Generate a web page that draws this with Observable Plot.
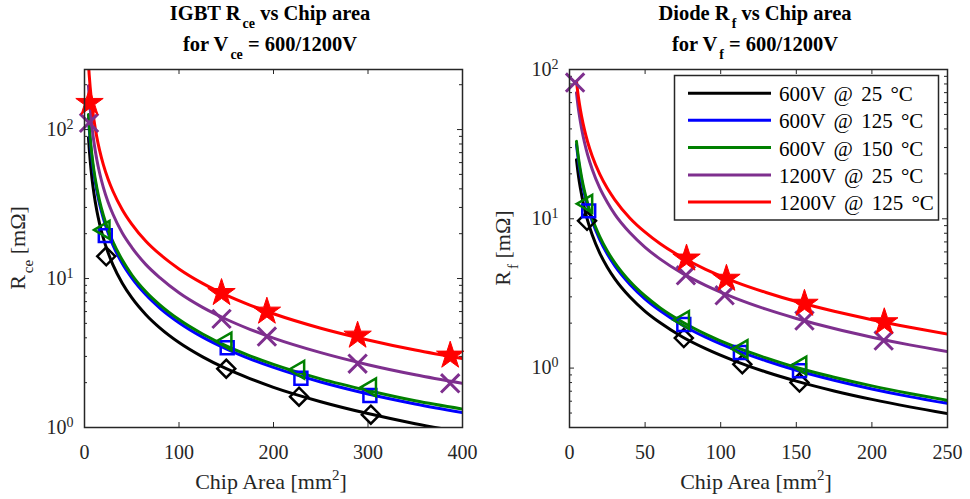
<!DOCTYPE html>
<html>
<head>
<meta charset="utf-8">
<script src="https://cdn.jsdelivr.net/npm/d3@7"></script>
<script src="https://cdn.jsdelivr.net/npm/@observablehq/plot@0.6"></script>
<style>
  html, body { margin: 0; padding: 0; background: #fff; }
  #wrap { position: relative; width: 970px; height: 499px; overflow: hidden; background: #fff; }
  #left, #right { position: absolute; top: 0; width: 485px; height: 499px; }
  #left { left: 0; } #right { left: 485px; }
</style>
</head>
<body>
<div id="wrap"><div id="left"></div><div id="right"></div></div>
<script>
// ---------- DATA ----------
const seriesNames = ["600V @ 25 °C", "600V @ 125 °C", "600V @ 150 °C", "1200V @ 25 °C", "1200V @ 125 °C"];
const seriesColors = ["#000000", "#0000ff", "#008000", "#7e2f8e", "#ff0000"];
const seriesSymbols = ["diamond2", "square", "triangle", "times", "star"];

// IGBT panel: measured points
const igbtArea600_25 = [23, 150, 227, 303];
const igbtR600_25 = [14.1, 2.48, 1.61, 1.22];
const igbtArea600_125 = [22, 151, 229, 302];
const igbtR600_125 = [19.4, 3.43, 2.14, 1.64];
const igbtArea600_150 = [21, 150, 227, 303];
const igbtR600_150 = [21.2, 3.78, 2.44, 1.86];
const igbtArea1200_25 = [4.8, 145, 193, 289, 387];
const igbtR1200_25 = [111, 5.36, 4.08, 2.68, 1.98];
const igbtArea1200_125 = [5.3, 145, 193, 289, 387];
const igbtR1200_125 = [151, 8.0, 6.0, 4.14, 3.04];

// IGBT panel: fitted curves
const igbtFitArea = [4.2, 5, 6, 8, 10, 13, 16, 20, 25, 30, 40, 50, 65, 80, 100, 125, 150, 175, 200, 250, 300, 350, 400];
const igbtFit600_25 = [88.6, 74.4, 62, 46.5, 37.2, 28.6, 23.3, 18.6, 14.9, 12.4, 9.3, 7.44, 5.72, 4.65, 3.72, 2.98, 2.48, 2.13, 1.86, 1.49, 1.24, 1.06, 0.93];
const igbtFit600_125 = [120, 101, 84.2, 63.1, 50.5, 38.8, 31.6, 25.3, 20.2, 16.8, 12.6, 10.1, 7.77, 6.31, 5.05, 4.04, 3.37, 2.89, 2.53, 2.02, 1.68, 1.44, 1.26];
const igbtFit600_150 = [126, 106, 88.3, 66.3, 53, 40.8, 33.1, 26.5, 21.2, 17.7, 13.3, 10.6, 8.15, 6.63, 5.3, 4.24, 3.53, 3.03, 2.65, 2.12, 1.77, 1.51, 1.33];
const igbtFit1200_25 = [197, 165, 138, 103, 82.1, 63, 51.1, 40.8, 32.5, 27.1, 20.2, 16.2, 12.4, 10.1, 8.02, 6.4, 5.33, 4.56, 3.98, 3.18, 2.64, 2.26, 1.98];
const igbtFit1200_125 = [276, 232, 193, 145, 116, 89.2, 72.5, 58, 46.4, 38.7, 29, 23.2, 17.8, 14.5, 11.6, 9.28, 7.73, 6.63, 5.8, 4.64, 3.87, 3.31, 2.9];

// Diode panel: measured points
const diodeArea600_25 = [11.6, 75.6, 114.3, 152.1];
const diodeR600_25 = [9.7, 1.59, 1.06, 0.80];
const diodeArea600_125 = [12.7, 75.6, 113, 152.1];
const diodeR600_125 = [11.3, 1.96, 1.27, 0.96];
const diodeArea600_150 = [11.6, 75.6, 114.3, 153.2];
const diodeR600_150 = [12.6, 2.1, 1.34, 1.04];
const diodeArea1200_25 = [3.7, 77, 102.6, 155.4, 207.8];
const diodeR1200_25 = [81.7, 4.18, 3.07, 2.08, 1.53];
const diodeArea1200_125 = [77.4, 103.8, 155.4, 208.2];
const diodeR1200_125 = [5.42, 3.97, 2.70, 2.03];

// Diode panel: fitted curves
const diodeFitArea = [4.6, 5.5, 6.5, 8, 10, 12, 15, 20, 25, 30, 40, 50, 60, 75, 90, 110, 130, 150, 175, 200, 225, 250];
const diodeFit600_25 = [24.9, 20.9, 17.7, 14.5, 11.6, 9.72, 7.81, 5.89, 4.74, 3.96, 2.99, 2.4, 2.01, 1.61, 1.35, 1.11, 0.941, 0.818, 0.703, 0.617, 0.55, 0.496];
const diodeFit600_125 = [31.5, 26.4, 22.3, 18.1, 14.5, 12.1, 9.67, 7.25, 5.8, 4.83, 3.63, 2.9, 2.42, 1.93, 1.61, 1.32, 1.12, 0.967, 0.829, 0.725, 0.644, 0.58];
const diodeFit600_150 = [33, 27.6, 23.4, 19, 15.2, 12.7, 10.1, 7.6, 6.08, 5.07, 3.8, 3.04, 2.53, 2.03, 1.69, 1.38, 1.17, 1.01, 0.869, 0.76, 0.676, 0.608];
const diodeFit1200_25 = [70, 58.5, 49.5, 40.3, 32.2, 26.8, 21.5, 16.1, 12.9, 10.7, 8.05, 6.44, 5.37, 4.29, 3.58, 2.93, 2.48, 2.15, 1.84, 1.61, 1.43, 1.29];
const diodeFit1200_125 = [83.3, 70, 59.5, 48.6, 39.1, 32.7, 26.3, 19.9, 16, 13.4, 10.1, 8.14, 6.81, 5.48, 4.59, 3.77, 3.21, 2.79, 2.4, 2.11, 1.88, 1.69];

// Axis ticks
const igbtXTicks = [0, 100, 200, 300, 400];
const igbtYMajor = [1, 10, 100];
const igbtYMinor = [2, 3, 4, 5, 6, 7, 8, 9, 20, 30, 40, 50, 60, 70, 80, 90, 200];
const diodeXTicks = [0, 50, 100, 150, 200, 250];
const diodeYMajor = [1, 10, 100];
const diodeYMinor = [0.4, 0.5, 0.6, 0.7, 0.8, 0.9, 2, 3, 4, 5, 6, 7, 8, 9, 20, 30, 40, 50, 60, 70, 80, 90];

// ---------- BUILD ----------
const W = 485, H = 499, ML = 84, MR = 23, MT = 69, MB = 72;
const PW = W - ML - MR, PH = H - MT - MB;
const AX = "#262626";
const FONT = "Liberation Serif, Times New Roman, serif";

function tidyPoints(areas, values) {
  const out = [];
  areas.forEach((a, s) => a.forEach((x, i) => out.push({x, y: values[s][i], s})));
  return out;
}
function tidyFit(area, fits) {
  const out = [];
  fits.forEach((f, s) => f.forEach((y, i) => out.push({x: area[i], y, s})));
  return out;
}

function makePanel({xDomain, yDomain, xTicks, yMajor, yMinor, fit, pts}) {
  const marks = [
    Plot.ruleX(xTicks, {stroke: AX, strokeWidth: 1, insetTop: PH - 5}),
    Plot.ruleX(xTicks, {stroke: AX, strokeWidth: 1, insetBottom: PH - 5}),
    Plot.ruleY(yMajor, {stroke: AX, strokeWidth: 1, insetRight: PW - 5}),
    Plot.ruleY(yMajor, {stroke: AX, strokeWidth: 1, insetLeft: PW - 5}),
    Plot.ruleY(yMinor, {stroke: AX, strokeWidth: 1, insetRight: PW - 3}),
    Plot.ruleY(yMinor, {stroke: AX, strokeWidth: 1, insetLeft: PW - 3}),
    Plot.axisX({ticks: xTicks, tickSize: 0, tickPadding: 17, label: null, fill: AX, tickFormat: d => String(d)}),
    Plot.axisY({ticks: yMajor, tickSize: 0, tickPadding: 11, label: null, fill: AX,
                tickFormat: d => String(Math.round(Math.log10(d)))}),
  ];
  for (let s = 0; s < 5; s++) {
    marks.push(Plot.line(fit.filter(d => d.s === s), {x: "x", y: "y", stroke: seriesColors[s], strokeWidth: 3, curve: "monotone-x", clip: true}));
  }
  const symR = [8.1, 7.3, 6.6, 8.4, 8.6];
  for (let s = 0; s < 5; s++) {
    const data = pts.filter(d => d.s === s);
    const opts = {x: "x", y: "y", symbol: seriesSymbols[s], r: symR[s], stroke: seriesColors[s], strokeWidth: 2.5, fill: "none"};
    if (s === 2) opts.rotate = -90;
    if (s === 3) opts.strokeWidth = 3;
    if (s === 4) { opts.fill = seriesColors[s]; opts.strokeWidth = 1; }
    marks.push(Plot.dot(data, opts));
  }
  marks.push(Plot.frame({stroke: AX, strokeWidth: 1.5}));
  return Plot.plot({
    width: W, height: H, marginLeft: ML, marginRight: MR, marginTop: MT, marginBottom: MB,
    x: {domain: xDomain},
    y: {type: "log", domain: yDomain},
    style: {fontFamily: FONT, fontSize: "20px", color: AX, background: "white", overflow: "visible"},
    marks
  });
}

function fixExponents(svg) {
  svg.querySelectorAll('g[aria-label="y-axis tick label"] text').forEach(t => {
    const e = t.textContent;
    t.textContent = "";
    const a = document.createElementNS("http://www.w3.org/2000/svg", "tspan");
    a.textContent = "10";
    const b = document.createElementNS("http://www.w3.org/2000/svg", "tspan");
    b.textContent = e;
    b.setAttribute("dy", "-0.5em");
    b.setAttribute("font-size", "14");
    t.appendChild(a); t.appendChild(b);
  });
}

// rich text: parts = [[text, kind]] with kind "n" | "sub" | "sup"
function rich(sel, x, y, parts, {weight = "normal", rotate = false, fill = AX, size = 20, small = 14} = {}) {
  const t = sel.append("text")
    .attr("text-anchor", "middle")
    .attr("font-family", FONT)
    .attr("font-size", size)
    .attr("font-weight", weight)
    .attr("fill", fill);
  if (rotate) t.attr("transform", `translate(${x},${y}) rotate(-90)`);
  else t.attr("x", x).attr("y", y);
  let shift = 0;
  for (const [txt, kind] of parts) {
    const target = kind === "sub" ? 8 : kind === "sup" ? -9 : 0;
    const ts = t.append("tspan").text(txt).attr("dy", target - shift);
    if (kind !== "n") ts.attr("font-size", small);
    if (kind === "sub") ts.attr("dx", 2);
    shift = target;
  }
  return t;
}

const igbtFit = tidyFit(igbtFitArea, [igbtFit600_25, igbtFit600_125, igbtFit600_150, igbtFit1200_25, igbtFit1200_125]);
const igbtPts = tidyPoints(
  [igbtArea600_25, igbtArea600_125, igbtArea600_150, igbtArea1200_25, igbtArea1200_125],
  [igbtR600_25, igbtR600_125, igbtR600_150, igbtR1200_25, igbtR1200_125]);
const diodeFit = tidyFit(diodeFitArea, [diodeFit600_25, diodeFit600_125, diodeFit600_150, diodeFit1200_25, diodeFit1200_125]);
const diodePts = tidyPoints(
  [diodeArea600_25, diodeArea600_125, diodeArea600_150, diodeArea1200_25, diodeArea1200_125],
  [diodeR600_25, diodeR600_125, diodeR600_150, diodeR1200_25, diodeR1200_125]);

const left = makePanel({xDomain: [0, 400], yDomain: [1, 253], xTicks: igbtXTicks, yMajor: igbtYMajor, yMinor: igbtYMinor, fit: igbtFit, pts: igbtPts});
const right = makePanel({xDomain: [0, 250], yDomain: [0.4, 100], xTicks: diodeXTicks, yMajor: diodeYMajor, yMinor: diodeYMinor, fit: diodeFit, pts: diodePts});
document.getElementById("left").appendChild(left);
document.getElementById("right").appendChild(right);
fixExponents(left); fixExponents(right);

const cx = ML + PW / 2;
const L = d3.select(left), R = d3.select(right);
rich(L, cx - 3, 20, [["IGBT R", "n"], ["ce", "sub"], [" vs Chip area", "n"]], {weight: "bold", fill: "#000", size: 20.5});
rich(L, cx - 3, 51, [["for V", "n"], ["ce", "sub"], [" = 600/1200V", "n"]], {weight: "bold", fill: "#000", size: 20.5});
rich(L, cx - 2, 489, [["Chip Area [mm", "n"], ["2", "sup"], ["]", "n"]], {size: 22, small: 15});
rich(L, 25, MT + PH / 2, [["R", "n"], ["ce", "sub"], [" [mΩ]", "n"]], {rotate: true, size: 22, small: 15});

rich(R, cx - 3, 20, [["Diode R", "n"], ["f", "sub"], [" vs Chip area", "n"]], {weight: "bold", fill: "#000", size: 20.5});
rich(R, cx - 3, 51, [["for V", "n"], ["f", "sub"], [" = 600/1200V", "n"]], {weight: "bold", fill: "#000", size: 20.5});
rich(R, cx - 2, 489, [["Chip Area [mm", "n"], ["2", "sup"], ["]", "n"]], {size: 22, small: 15});
rich(R, 25, MT + PH / 2, [["R", "n"], ["f", "sub"], [" [mΩ]", "n"]], {rotate: true, size: 22, small: 15});

// legend (right panel)
const lg = R.append("g").attr("aria-label", "legend");
lg.append("rect").attr("x", 189.5).attr("y", 75.5).attr("width", 264).attr("height", 144.5)
  .attr("fill", "white").attr("stroke", AX).attr("stroke-width", 1.5);
const legY = [93.3, 120.3, 147.6, 174.9, 202];
seriesNames.forEach((name, i) => {
  lg.append("line").attr("x1", 203).attr("x2", 286).attr("y1", legY[i]).attr("y2", legY[i])
    .attr("stroke", seriesColors[i]).attr("stroke-width", 3);
  lg.append("text").attr("x", 294).attr("y", legY[i] + 8).attr("font-family", FONT)
    .attr("text-anchor", "start").attr("font-size", 21).attr("fill", "#000")
    .attr("word-spacing", "3px").text(name);
});
</script>
</body>
</html>
